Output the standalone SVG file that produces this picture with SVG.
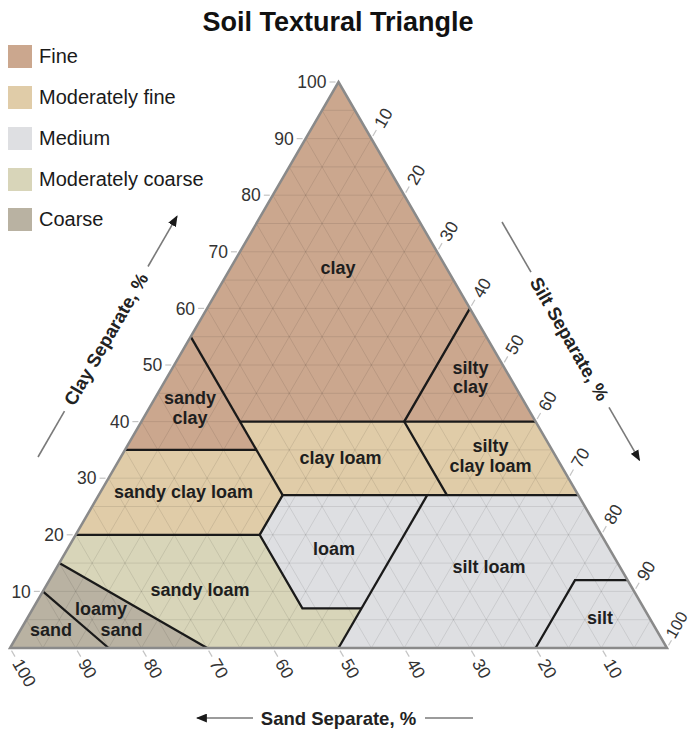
<svg xmlns="http://www.w3.org/2000/svg" width="693" height="731" viewBox="0 0 693 731">
<defs>
<style>
text{font-family:"Liberation Sans",Arial,Helvetica,sans-serif}
.title{font-size:27px;font-weight:bold;fill:#111;text-anchor:middle}
.leg{font-size:20px;fill:#1a1a1a}
.lab{font-size:18px;font-weight:bold;fill:#1e1e1e;text-anchor:middle}
.tl{font-size:17.5px;fill:#333}
.ax{font-size:18.5px;font-weight:bold;fill:#222;text-anchor:middle}
.fine{fill:#cba78e}
.mfine{fill:#e0cca8}
.med{fill:#dedfe2}
.mcoarse{fill:#d8d5b9}
.coarse{fill:#b9b2a2}
.grid{stroke:#000;stroke-opacity:0.09;stroke-width:1;fill:none}
.bnd{stroke:#1a1a1a;stroke-width:2.3;fill:none}
.tick{stroke:#c4c4c4;stroke-width:1.2}
.axl{stroke:#7a7a7a;stroke-width:1.6;fill:none}
</style>
<marker id="ah" viewBox="0 0 10 8" refX="9" refY="4" markerWidth="11" markerHeight="9" markerUnits="userSpaceOnUse" orient="auto">
<path d="M0,0 L10,4 L0,8 z" fill="#1a1a1a"/>
</marker>
</defs>
<rect width="693" height="731" fill="#fff"/>
<text class="title" x="338" y="31">Soil Textural Triangle</text>
<g id="legend">
<g id="legend-fine"><rect class="fine" x="8" y="45" width="24" height="23"/><text class="leg" x="39" y="63">Fine</text></g>
<g id="legend-mfine"><rect class="mfine" x="8" y="86" width="24" height="23"/><text class="leg" x="39" y="104">Moderately fine</text></g>
<g id="legend-medium"><rect class="med" x="8" y="127" width="24" height="23"/><text class="leg" x="39" y="145">Medium</text></g>
<g id="legend-mcoarse"><rect class="mcoarse" x="8" y="168" width="24" height="23"/><text class="leg" x="39" y="186">Moderately coarse</text></g>
<g id="legend-coarse"><rect class="coarse" x="8" y="208" width="24" height="23"/><text class="leg" x="39" y="226">Coarse</text></g>
</g>
<g id="regions">
<polygon id="clay-area" class="fine" points="338.5,82 469.9,308.4 404.2,421.6 239.95,421.6 190.68,336.7"/>
<polygon id="silty-clay-area" class="fine" points="469.9,308.4 535.6,421.6 404.2,421.6"/>
<polygon id="sandy-clay-area" class="fine" points="190.68,336.7 239.95,421.6 256.4,449.9 124.98,449.9"/>
<polygon id="clay-loam-area" class="mfine" points="239.95,421.6 404.2,421.6 446.9,495.2 282.65,495.2"/>
<polygon id="silty-clay-loam-area" class="mfine" points="404.2,421.6 535.6,421.6 578.3,495.2 446.9,495.2"/>
<polygon id="sandy-clay-loam-area" class="mfine" points="124.98,449.9 256.4,449.9 282.65,495.2 259.66,534.8 75.7,534.8"/>
<polygon id="loam-area" class="med" points="282.65,495.2 427.2,495.2 361.5,608.4 302.4,608.4 259.66,534.8"/>
<polygon id="silt-loam-area" class="med" points="427.2,495.2 578.3,495.2 627.6,580.1 575,580.1 535.6,648 338.5,648 361.5,608.4"/>
<polygon id="silt-area" class="med" points="575,580.1 627.6,580.1 667,648 535.6,648"/>
<polygon id="sandy-loam-area" class="mcoarse" points="75.7,534.8 259.66,534.8 302.4,608.4 361.5,608.4 338.5,648 207.1,648 59.28,563.1"/>
<polygon id="loamy-sand-area" class="coarse" points="59.28,563.1 207.1,648 108.55,648 42.85,591.4"/>
<polygon id="sand-area" class="coarse" points="42.85,591.4 108.55,648 10,648"/>
</g>
<path class="grid" d="M26.43,619.7H650.58M42.85,591.4H634.15M59.28,563.1H617.73M75.7,534.8H601.3M92.13,506.5H584.88M108.55,478.2H568.45M124.98,449.9H552.03M141.4,421.6H535.6M157.83,393.3H519.18M174.25,365H502.75M190.68,336.7H486.33M207.1,308.4H469.9M223.53,280.1H453.48M239.95,251.8H437.05M256.38,223.5H420.63M272.8,195.2H404.2M289.23,166.9H387.78M305.65,138.6H371.35M322.08,110.3H354.93
M42.85,648L354.93,110.3M75.7,648L371.35,138.6M108.55,648L387.78,166.9M141.4,648L404.2,195.2M174.25,648L420.63,223.5M207.1,648L437.05,251.8M239.95,648L453.48,280.1M272.8,648L469.9,308.4M305.65,648L486.33,336.7M338.5,648L502.75,365M371.35,648L519.18,393.3M404.2,648L535.6,421.6M437.05,648L552.03,449.9M469.9,648L568.45,478.2M502.75,648L584.88,506.5M535.6,648L601.3,534.8M568.45,648L617.73,563.1M601.3,648L634.15,591.4M634.15,648L650.58,619.7
M42.85,648L26.43,619.7M75.7,648L42.85,591.4M108.55,648L59.28,563.1M141.4,648L75.7,534.8M174.25,648L92.13,506.5M207.1,648L108.55,478.2M239.95,648L124.98,449.9M272.8,648L141.4,421.6M305.65,648L157.83,393.3M338.5,648L174.25,365M371.35,648L190.68,336.7M404.2,648L207.1,308.4M437.05,648L223.53,280.1M469.9,648L239.95,251.8M502.75,648L256.38,223.5M535.6,648L272.8,195.2M568.45,648L289.23,166.9M601.3,648L305.65,138.6M634.15,648L322.08,110.3"/>
<g id="connectors">
<path class="bnd" d="M190.68,336.7L282.65,495.2"/>
<path class="bnd" d="M239.95,421.6H535.6"/>
<path class="bnd" d="M469.9,308.4L404.2,421.6L446.9,495.2"/>
<path class="bnd" d="M124.98,449.9H256.4"/>
<path class="bnd" d="M282.65,495.2H578.3"/>
<path class="bnd" d="M282.65,495.2L259.66,534.8L302.4,608.4H361.5"/>
<path class="bnd" d="M75.7,534.8H259.66"/>
<path class="bnd" d="M427.2,495.2L338.5,648"/>
<path class="bnd" d="M535.6,648L575,580.1H627.6"/>
<path class="bnd" d="M59.28,563.1L207.1,648"/>
<path class="bnd" d="M42.85,591.4L108.55,648"/>
</g>
<polygon id="outline" points="338.5,82 667,648 10,648" fill="none" stroke="#8a8a8a" stroke-width="2.5" stroke-linejoin="miter"/>
<g id="labels">
<g id="clay"><text class="lab" x="338" y="274">clay</text></g>
<g id="sandy-clay"><text class="lab" x="190" y="404">sandy</text><text class="lab" x="190" y="424">clay</text></g>
<g id="silty-clay"><text class="lab" x="470.5" y="374">silty</text><text class="lab" x="470.5" y="393">clay</text></g>
<g id="clay-loam"><text class="lab" x="340.5" y="464">clay loam</text></g>
<g id="silty-clay-loam"><text class="lab" x="490.5" y="452">silty</text><text class="lab" x="490.5" y="472">clay loam</text></g>
<g id="sandy-clay-loam"><text class="lab" x="183.5" y="498">sandy clay loam</text></g>
<g id="loam"><text class="lab" x="334" y="555">loam</text></g>
<g id="silt-loam"><text class="lab" x="489" y="573">silt loam</text></g>
<g id="silt"><text class="lab" x="600" y="624">silt</text></g>
<g id="sandy-loam"><text class="lab" x="200" y="596">sandy loam</text></g>
<g id="loamy-sand"><text class="lab" x="101" y="615">loamy</text><text class="lab" x="121.5" y="636">sand</text></g>
<g id="sand"><text class="lab" x="51" y="636">sand</text></g>
</g>
<g id="clay-scale">
<g transform="translate(338.5,82)"><line class="tick" x1="-9" x2="-3"/><text class="tl" x="-12" dy="0.35em" text-anchor="end">100</text></g>
<g transform="translate(305.65,138.6)"><line class="tick" x1="-9" x2="-3"/><text class="tl" x="-12" dy="0.35em" text-anchor="end">90</text></g>
<g transform="translate(272.8,195.2)"><line class="tick" x1="-9" x2="-3"/><text class="tl" x="-12" dy="0.35em" text-anchor="end">80</text></g>
<g transform="translate(239.95,251.8)"><line class="tick" x1="-9" x2="-3"/><text class="tl" x="-12" dy="0.35em" text-anchor="end">70</text></g>
<g transform="translate(207.1,308.4)"><line class="tick" x1="-9" x2="-3"/><text class="tl" x="-12" dy="0.35em" text-anchor="end">60</text></g>
<g transform="translate(174.25,365)"><line class="tick" x1="-9" x2="-3"/><text class="tl" x="-12" dy="0.35em" text-anchor="end">50</text></g>
<g transform="translate(141.4,421.6)"><line class="tick" x1="-9" x2="-3"/><text class="tl" x="-12" dy="0.35em" text-anchor="end">40</text></g>
<g transform="translate(108.55,478.2)"><line class="tick" x1="-9" x2="-3"/><text class="tl" x="-12" dy="0.35em" text-anchor="end">30</text></g>
<g transform="translate(75.7,534.8)"><line class="tick" x1="-9" x2="-3"/><text class="tl" x="-12" dy="0.35em" text-anchor="end">20</text></g>
<g transform="translate(42.85,591.4)"><line class="tick" x1="-9" x2="-3"/><text class="tl" x="-12" dy="0.35em" text-anchor="end">10</text></g>
</g>
<g id="silt-scale">
<g transform="translate(371.35,138.6) rotate(-60)"><line class="tick" x1="3" x2="10"/><text class="tl" x="14" dy="0.35em">10</text></g>
<g transform="translate(404.2,195.2) rotate(-60)"><line class="tick" x1="3" x2="10"/><text class="tl" x="14" dy="0.35em">20</text></g>
<g transform="translate(437.05,251.8) rotate(-60)"><line class="tick" x1="3" x2="10"/><text class="tl" x="14" dy="0.35em">30</text></g>
<g transform="translate(469.9,308.4) rotate(-60)"><line class="tick" x1="3" x2="10"/><text class="tl" x="14" dy="0.35em">40</text></g>
<g transform="translate(502.75,365) rotate(-60)"><line class="tick" x1="3" x2="10"/><text class="tl" x="14" dy="0.35em">50</text></g>
<g transform="translate(535.6,421.6) rotate(-60)"><line class="tick" x1="3" x2="10"/><text class="tl" x="14" dy="0.35em">60</text></g>
<g transform="translate(568.45,478.2) rotate(-60)"><line class="tick" x1="3" x2="10"/><text class="tl" x="14" dy="0.35em">70</text></g>
<g transform="translate(601.3,534.8) rotate(-60)"><line class="tick" x1="3" x2="10"/><text class="tl" x="14" dy="0.35em">80</text></g>
<g transform="translate(634.15,591.4) rotate(-60)"><line class="tick" x1="3" x2="10"/><text class="tl" x="14" dy="0.35em">90</text></g>
<g transform="translate(667,648) rotate(-60)"><line class="tick" x1="3" x2="9"/><text class="tl" x="11" dy="0.15em" style="font-size:16.5px">100</text></g>
</g>
<g id="sand-scale">
<g transform="translate(10,648) rotate(60)"><line class="tick" x1="3" x2="10"/><text class="tl" x="14" dy="0.35em">100</text></g>
<g transform="translate(75.7,648) rotate(60)"><line class="tick" x1="3" x2="10"/><text class="tl" x="14" dy="0.35em">90</text></g>
<g transform="translate(141.4,648) rotate(60)"><line class="tick" x1="3" x2="10"/><text class="tl" x="14" dy="0.35em">80</text></g>
<g transform="translate(207.1,648) rotate(60)"><line class="tick" x1="3" x2="10"/><text class="tl" x="14" dy="0.35em">70</text></g>
<g transform="translate(272.8,648) rotate(60)"><line class="tick" x1="3" x2="10"/><text class="tl" x="14" dy="0.35em">60</text></g>
<g transform="translate(338.5,648) rotate(60)"><line class="tick" x1="3" x2="10"/><text class="tl" x="14" dy="0.35em">50</text></g>
<g transform="translate(404.2,648) rotate(60)"><line class="tick" x1="3" x2="10"/><text class="tl" x="14" dy="0.35em">40</text></g>
<g transform="translate(469.9,648) rotate(60)"><line class="tick" x1="3" x2="10"/><text class="tl" x="14" dy="0.35em">30</text></g>
<g transform="translate(535.6,648) rotate(60)"><line class="tick" x1="3" x2="10"/><text class="tl" x="14" dy="0.35em">20</text></g>
<g transform="translate(601.3,648) rotate(60)"><line class="tick" x1="3" x2="10"/><text class="tl" x="14" dy="0.35em">10</text></g>
</g>
<g id="axis-titles">
<path class="axl" d="M38,457L64.5,411.1"/>
<path class="axl" d="M148,266.5L177,216.3" marker-end="url(#ah)"/>
<text class="ax" transform="translate(106,339.2) rotate(-60)" dy="0.35em">Clay Separate, %</text>
<path class="axl" d="M502,222L531,272.2"/>
<path class="axl" d="M609,407.3L639.5,460.2" marker-end="url(#ah)"/>
<text class="ax" transform="translate(569.5,338.9) rotate(60)" dy="0.35em">Silt Separate, %</text>
<path class="axl" d="M253,718H197" marker-end="url(#ah)"/>
<path class="axl" d="M425,718H473"/>
<text class="ax" x="338.5" y="724.5">Sand Separate, %</text>
</g>
</svg>
